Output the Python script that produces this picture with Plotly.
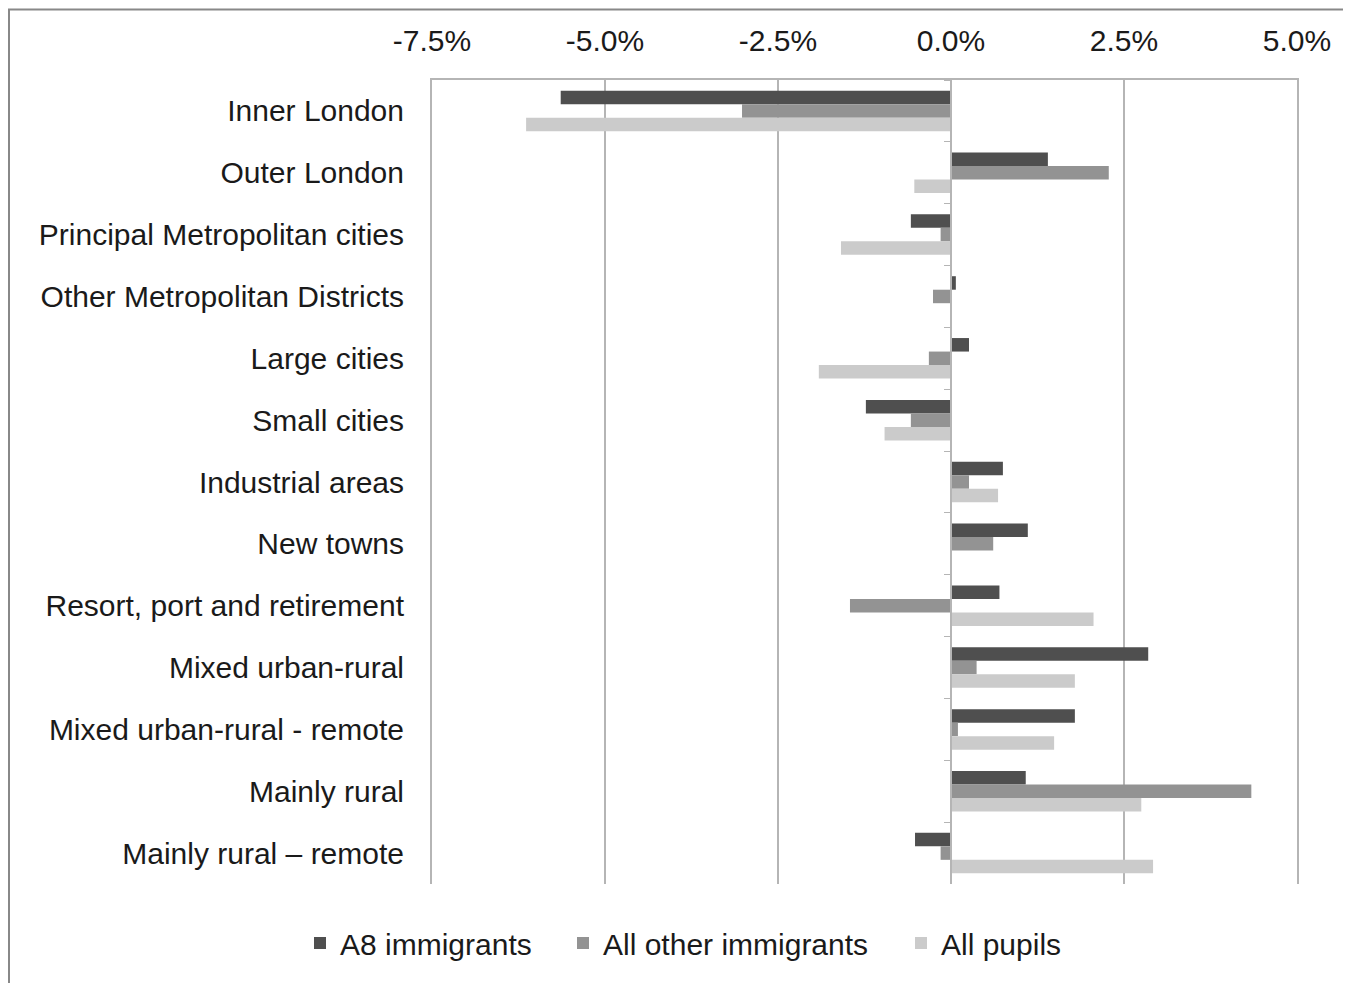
import plotly.graph_objects as go

categories = [
    "Inner London", "Outer London", "Principal Metropolitan cities",
    "Other Metropolitan Districts", "Large cities", "Small cities",
    "Industrial areas", "New towns", "Resort, port and retirement",
    "Mixed urban-rural", "Mixed urban-rural - remote", "Mainly rural",
    "Mainly rural \u2013 remote",
]
a8_immigrants = [-5.64, 1.40, -0.58, 0.07, 0.26, -1.23, 0.75, 1.11, 0.70, 2.85, 1.79, 1.08, -0.52]
all_other_immigrants = [-3.02, 2.28, -0.15, -0.26, -0.32, -0.58, 0.26, 0.61, -1.46, 0.37, 0.10, 4.34, -0.15]
all_pupils = [-6.14, -0.53, -1.59, 0.0, -1.91, -0.96, 0.68, 0.0, 2.06, 1.79, 1.49, 2.75, 2.92]
x_ticks = [-7.5, -5.0, -2.5, 0.0, 2.5, 5.0]

series = [
    ("A8 immigrants", a8_immigrants, "#4f4f4f", "legend"),
    ("All other immigrants", all_other_immigrants, "#939393", "legend2"),
    ("All pupils", all_pupils, "#cbcbcb", "legend3"),
]

FONT = "Liberation Sans, Arial, sans-serif"
FSIZE = 30
GRID = "#b5b5b5"

fig = go.Figure()
for name, vals, col, leg in series:
    fig.add_trace(go.Bar(
        x=vals, y=categories, orientation="h", name=name, legend=leg,
        marker=dict(color=col, line=dict(width=0)),
    ))

# invisible helper trace for the zero-axis with boundary ticks
fig.add_trace(go.Scatter(
    x=[0] * len(categories), y=categories, yaxis="y2", mode="markers",
    marker=dict(opacity=0), showlegend=False, hoverinfo="skip",
))

OFF = 8  # page body margin
W, H = 1351 - OFF, 983 - OFF
L, R, T, B = 432 - OFF, 1297 - OFF, 80 - OFF, 884 - OFF
PW, PH = R - L, B - T

def px_to_xfrac(px):
    return (px - OFF - L) / PW

def py_to_yfrac(py):
    return (B - (py - OFF)) / PH

leg_common = dict(
    orientation="h", xanchor="left", yanchor="middle", y=py_to_yfrac(943),
    font=dict(family=FONT, size=FSIZE, color="#1a1a1a"),
    itemwidth=30, bgcolor="rgba(0,0,0,0)",
)

fig.update_layout(
    width=W, height=H,
    margin=dict(l=L, r=W - R, t=T, b=H - B, pad=0),
    paper_bgcolor="white", plot_bgcolor="white",
    barmode="group", bargap=0.345, bargroupgap=0,
    font=dict(family=FONT, size=FSIZE, color="#1a1a1a"),
    xaxis=dict(
        side="top", range=[-7.5, 5.0], tickvals=x_ticks,
        ticktext=[f"{v:.1f}%" for v in x_ticks],
        showgrid=True, gridcolor=GRID, gridwidth=1.5,
        zeroline=False, showline=True, linecolor=GRID, linewidth=2,
        ticks="outside", ticklen=15, tickcolor="rgba(0,0,0,0)",
        fixedrange=True,
    ),
    yaxis=dict(
        type="category", categoryorder="array", categoryarray=categories,
        range=[len(categories) - 0.5, -0.5], autorange=False,
        showgrid=False, zeroline=False,
        showline=True, mirror=True, linecolor=GRID, linewidth=2,
        ticks="outside", ticklen=20, tickcolor="rgba(0,0,0,0)",
    ),
    yaxis2=dict(
        matches="y", overlaying="y", anchor="free", position=0.6,
        type="category", showticklabels=False, showgrid=False,
        showline=True, linecolor=GRID, linewidth=2,
        ticks="outside", tickson="boundaries", ticklen=6, tickcolor=GRID,
    ),
    legend=dict(x=px_to_xfrac(300), **leg_common),
    legend2=dict(x=px_to_xfrac(563), **leg_common),
    legend3=dict(x=px_to_xfrac(901), **leg_common),
    shapes=[dict(
        type="rect", xref="paper", yref="paper",
        x0=px_to_xfrac(9), x1=1.2,
        y0=-0.3, y1=py_to_yfrac(OFF + 1.5),
        line=dict(color="#888888", width=2), fillcolor="rgba(0,0,0,0)",
        layer="below",
    )],
    showlegend=True,
)

fig.write_html("out.html")
